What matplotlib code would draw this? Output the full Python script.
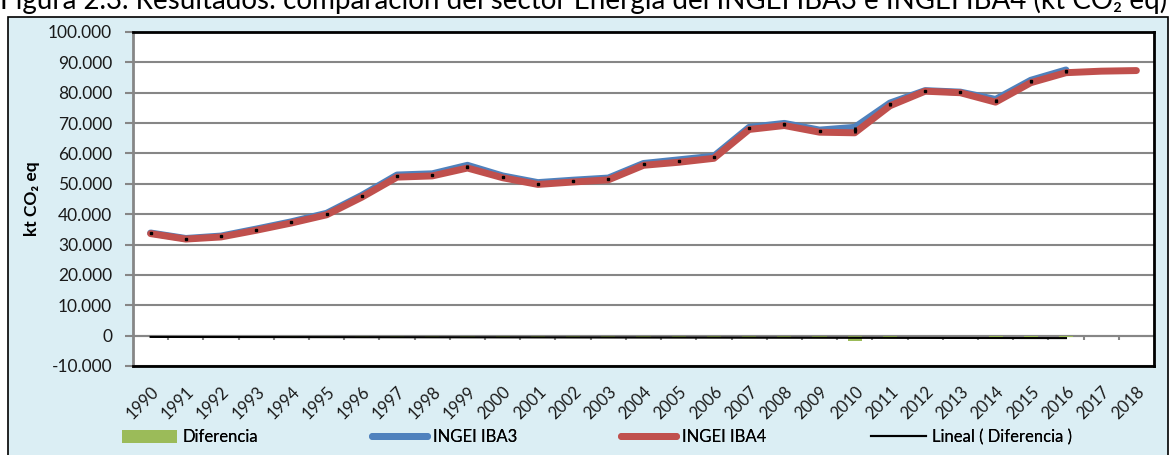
import matplotlib
matplotlib.use("Agg")
import matplotlib.pyplot as plt
from matplotlib.patches import Rectangle, Patch
from matplotlib.lines import Line2D
import numpy as np

plt.rcParams['font.family'] = ['Lato', 'DejaVu Sans']

years = [str(y) for y in range(1990, 2019)]
iba4 = [33600, 31800, 32500, 34700, 37100, 39800, 45600, 52200, 52600, 55200,
        52000, 49800, 50600, 51300, 56100, 57100, 58400, 67900, 69200, 67000,
        66800, 75700, 80500, 80000, 76900, 83300, 86600, 87100, 87300]
iba3 = [33800, 32000, 32800, 35100, 37500, 40300, 46200, 52900, 53300, 56100,
        52600, 50400, 51200, 51900, 56700, 57900, 59100, 68600, 69900, 67700,
        68600, 76600, 80700, 80200, 77800, 84100, 87500]
diferencia = [-200, -200, -300, -400, -400, -500, -600, -700, -700, -900,
              -600, -600, -600, -600, -600, -800, -700, -700, -700, -700,
              -1800, -900, -200, -200, -900, -800, -400]
yticks = [-10000, 0, 10000, 20000, 30000, 40000, 50000, 60000, 70000, 80000, 90000, 100000]
yticklabels = ['-10.000', '0', '10.000', '20.000', '30.000', '40.000', '50.000',
               '60.000', '70.000', '80.000', '90.000', '100.000']

W, H = 1169, 455
fig = plt.figure(figsize=(W / 100, H / 100), dpi=100)
fig.patch.set_facecolor('white')

# light blue framed box
box = Rectangle((8 / W, -0.01), (1168 - 8) / W, (H - 17) / H + 0.01,
                transform=fig.transFigure, facecolor='#DBEEF4',
                edgecolor='black', linewidth=1.2, zorder=-5)
fig.patches.append(box)

# title (cut off at top, as in the source crop)
fig.text(0 / W, 1 - 9 / H,
         'Figura 2.3. Resultados: comparación del sector Energía del INGEI IBA3 e INGEI IBA4 (kt CO₂ eq)',
         fontsize=20, ha='left', va='baseline', color='black', zorder=-6)

L, R, T, B = 133, 1154, 32, 366
ax = fig.add_axes([L / W, (H - B) / H, (R - L) / W, (B - T) / H])
ax.set_zorder(2)
ax.set_facecolor('white')

x = np.arange(len(years))
n3 = len(iba3)
nd = len(diferencia)

ax.set_ylim(-10000, 100000)
ax.set_xlim(-0.5, len(years) - 0.5)

ax.set_yticks(yticks)
ax.set_yticklabels(yticklabels)
ax.yaxis.grid(True, color='#868686', linewidth=1.5, zorder=0)
ax.set_axisbelow(True)

# zero axis line and category tick marks
ax.axhline(0, color='#868686', linewidth=1.5, zorder=1)
bounds = np.arange(len(years) + 1) - 0.5
ax.vlines(bounds[1:-1], -1300, 0, color='#868686', linewidth=1.5, zorder=1)

# bars
ax.bar(x[:nd], diferencia, width=0.4, color='#9BBB59', zorder=2)

# lines
ax.plot(x[:n3], iba3, color='#4F81BD', linewidth=5, solid_capstyle='round', zorder=3)
ax.plot(x, iba4, color='#C0504D', linewidth=5, solid_capstyle='round', zorder=4)

# high-low lines
ax.vlines(x[:n3], iba4[:n3], iba3[:n3], color='black', linewidth=2, zorder=5)
ax.plot(x[:n3], [(a + b) / 2 for a, b in zip(iba4[:n3], iba3[:n3])], 's',
        color='black', markersize=1.8, zorder=5)

# linear trend of Diferencia
coef = np.polyfit(x[:nd], diferencia, 1)
ax.plot(x[:nd], np.polyval(coef, x[:nd]), color='black', linewidth=1.5, zorder=6)

# spines
for s in ['top', 'right', 'bottom']:
    ax.spines[s].set_color('black')
    ax.spines[s].set_linewidth(2)
ax.spines['left'].set_color('#868686')
ax.spines['left'].set_linewidth(2)

ax.tick_params(axis='y', direction='out', length=6, width=1.5, color='#868686',
               pad=9, labelsize=12.5, labelcolor='#1a1a1a')
ax.set_xticks(x)
ax.set_xticklabels(years, rotation=45, ha='right', va='top', rotation_mode='anchor')
ax.tick_params(axis='x', length=0, pad=13, labelsize=12, labelcolor='#1a1a1a')

ax.set_ylabel('kt CO₂ eq', fontsize=12.5, fontweight='bold')
ax.yaxis.set_label_coords(-(L - 40) / (R - L), 0.5)

# legends
handles = [Patch(facecolor='#9BBB59', edgecolor='none'),
           Line2D([], [], color='#4F81BD', linewidth=5, solid_capstyle='round'),
           Line2D([], [], color='#C0504D', linewidth=5, solid_capstyle='round'),
           Line2D([], [], color='black', linewidth=1.5)]
labels = ['Diferencia', 'INGEI IBA3', 'INGEI IBA4', 'Lineal ( Diferencia )']
xpos = [122, 372, 621, 871]
for h, lab, xp in zip(handles, labels, xpos):
    leg = fig.legend([h], [lab], loc='center left', bbox_to_anchor=(xp / W, 1 - 437 / H),
                     frameon=False, fontsize=12, handlelength=3.3, handleheight=0.8,
                     handletextpad=0.35, borderaxespad=0, borderpad=0)
    fig.add_artist(leg)

fig.savefig('out.png', dpi=100)
